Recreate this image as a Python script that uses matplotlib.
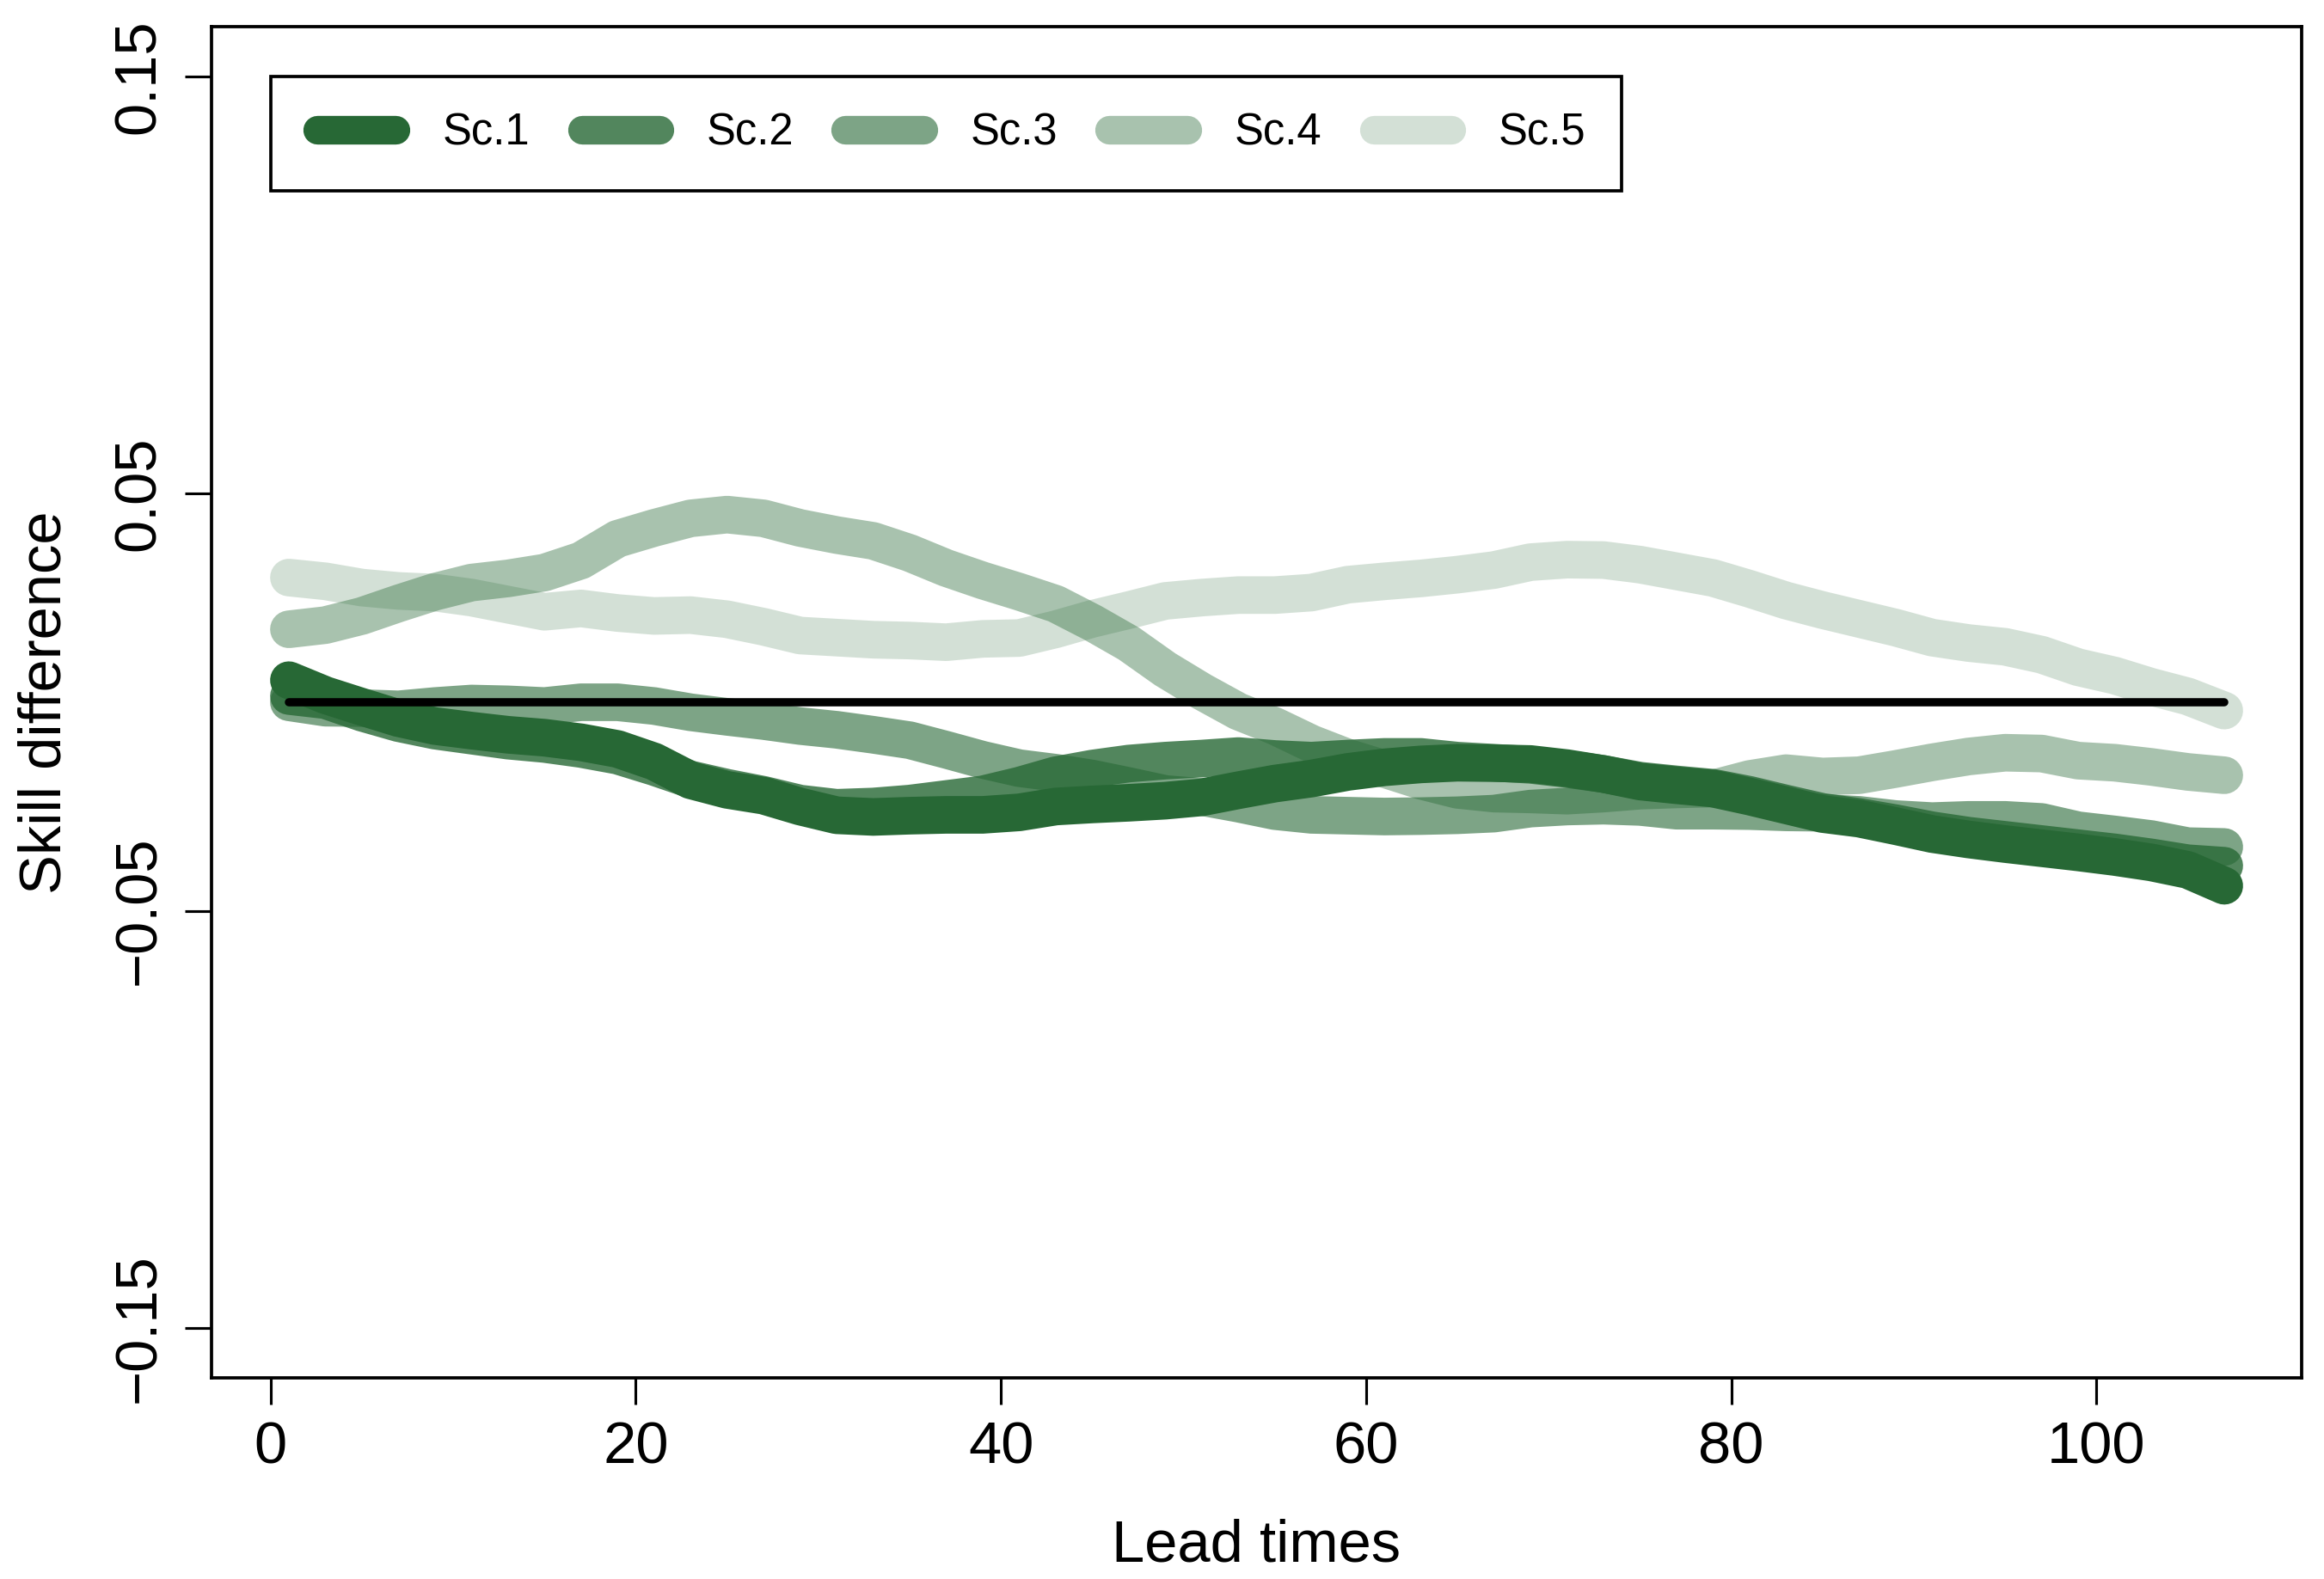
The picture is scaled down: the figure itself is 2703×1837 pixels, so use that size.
import matplotlib
matplotlib.use("Agg")
import matplotlib.pyplot as plt
from matplotlib.lines import Line2D
from matplotlib.legend_handler import HandlerLine2D

# lead times (every second one)
lead = list(range(1, 108, 2))

sc1 = [0.0053, 0.0017, -0.0011, -0.0038, -0.0057, -0.0068, -0.0078, -0.0085, -0.0096, -0.0112, -0.0142, -0.0187, -0.0210, -0.0224,
       -0.0250, -0.0271, -0.0275, -0.0272, -0.0270, -0.0270, -0.0264, -0.0250, -0.0245, -0.0241, -0.0236, -0.0228, -0.0211, -0.0195,
       -0.0183, -0.0167, -0.0156, -0.0149, -0.0145, -0.0146, -0.0148, -0.0158, -0.0172, -0.0190, -0.0199, -0.0207, -0.0226, -0.0247,
       -0.0268, -0.0279, -0.0297, -0.0316, -0.0329, -0.0340, -0.0350, -0.0360, -0.0371, -0.0384, -0.0402, -0.0440]
sc2 = [0.0015, 0.0005, -0.0025, -0.0050, -0.0068, -0.0080, -0.0092, -0.0100, -0.0112, -0.0128, -0.0155, -0.0185, -0.0205, -0.0222,
       -0.0243, -0.0253, -0.0250, -0.0243, -0.0232, -0.0221, -0.0200, -0.0175, -0.0159, -0.0147, -0.0140, -0.0135, -0.0129, -0.0136,
       -0.0140, -0.0135, -0.0131, -0.0131, -0.0140, -0.0145, -0.0150, -0.0160, -0.0172, -0.0188, -0.0197, -0.0205, -0.0222, -0.0243,
       -0.0263, -0.0275, -0.0290, -0.0307, -0.0320, -0.0330, -0.0340, -0.0350, -0.0360, -0.0372, -0.0386, -0.0392]
sc3 = [0.0000, -0.0013, -0.0014, -0.0017, -0.0009, -0.0003, -0.0005, -0.0009, 0.0000, 0.0000, -0.0009, -0.0024, -0.0035, -0.0045,
       -0.0057, -0.0066, -0.0078, -0.0091, -0.0114, -0.0138, -0.0158, -0.0169, -0.0183, -0.0201, -0.0220, -0.0227, -0.0243, -0.0261,
       -0.0270, -0.0272, -0.0274, -0.0273, -0.0271, -0.0267, -0.0255, -0.0250, -0.0248, -0.0251, -0.0260, -0.0260, -0.0261, -0.0264,
       -0.0265, -0.0270, -0.0280, -0.0285, -0.0282, -0.0282, -0.0287, -0.0307, -0.0317, -0.0328, -0.0345, -0.0347]
sc4 = [0.0175, 0.0185, 0.0207, 0.0237, 0.0265, 0.0287, 0.0297, 0.0311, 0.0340, 0.0392, 0.0418, 0.0441, 0.0450, 0.0441,
       0.0418, 0.0401, 0.0387, 0.0358, 0.0322, 0.0292, 0.0265, 0.0236, 0.0191, 0.0141, 0.0079, 0.0026, -0.0022, -0.0057,
       -0.0099, -0.0133, -0.0160, -0.0188, -0.0210, -0.0219, -0.0221, -0.0224, -0.0219, -0.0212, -0.0209, -0.0207, -0.0184, -0.0170,
       -0.0178, -0.0175, -0.0160, -0.0144, -0.0130, -0.0121, -0.0123, -0.0140, -0.0145, -0.0155, -0.0167, -0.0175]
sc5 = [0.0299, 0.0290, 0.0275, 0.0267, 0.0263, 0.0251, 0.0234, 0.0217, 0.0225, 0.0214, 0.0207, 0.0209, 0.0199, 0.0181,
       0.0160, 0.0155, 0.0150, 0.0148, 0.0144, 0.0152, 0.0154, 0.0175, 0.0200, 0.0221, 0.0243, 0.0251, 0.0257, 0.0257,
       0.0263, 0.0282, 0.0290, 0.0297, 0.0306, 0.0317, 0.0336, 0.0342, 0.0341, 0.0330, 0.0314, 0.0298, 0.0272, 0.0244,
       0.0221, 0.0200, 0.0179, 0.0155, 0.0142, 0.0133, 0.0114, 0.0084, 0.0064, 0.0037, 0.0014, -0.0020]

names = ["Sc.1", "Sc.2", "Sc.3", "Sc.4", "Sc.5"]
alphas = [1.0, 0.8, 0.6, 0.4, 0.2]
base = "#276835"

xticks = [0, 20, 40, 60, 80, 100]
yticks = [-0.15, -0.05, 0.05, 0.15]
ylabels = ["\u22120.15", "\u22120.05", "0.05", "0.15"]

plt.rcParams["font.family"] = ["Liberation Sans", "DejaVu Sans"]

fig = plt.figure(figsize=(2703 / 300, 1837 / 300), dpi=300)
ax = fig.add_axes([0.0910, 0.1274, 0.8994, 0.8557])

# the five scenarios, same colour with decreasing opacity
for vals, name, a in zip([sc1, sc2, sc3, sc4, sc5], names, alphas):
    ax.plot(lead, vals, color=base, alpha=a, lw=10.5,
            solid_capstyle="round", solid_joinstyle="round", label=name)

# zero reference
ax.plot(lead, [0] * len(lead), color="black", lw=2.3, solid_capstyle="round")

ax.set_xlim(-3.24, 111.24)
ax.set_ylim(-0.162, 0.162)
ax.set_xticks(xticks)
ax.set_xticklabels([str(t) for t in xticks], fontsize=16.5)
ax.set_yticks(yticks)
ax.set_yticklabels(ylabels, rotation=90, va="center", fontsize=16.5)
ax.tick_params(axis="both", direction="out", length=7.5, width=0.75, color="black")
ax.tick_params(axis="x", pad=4.5)
ax.tick_params(axis="y", pad=5)
for s in ax.spines.values():
    s.set_linewidth(0.9)

ax.set_xlabel("Lead times", fontsize=16.5, labelpad=12)
ax.set_ylabel("Skill difference", fontsize=16.5, labelpad=11)

leg = ax.legend(loc="upper left", bbox_to_anchor=(0, 0.15), bbox_transform=ax.transData,
                ncol=5, fontsize=12.2, frameon=True, fancybox=False, framealpha=1,
                edgecolor="black", borderaxespad=0, borderpad=0.82, numpoints=2,
                handlelength=2.293, handletextpad=0.819, columnspacing=0.93,
                handler_map={Line2D: HandlerLine2D(marker_pad=0.255)})
leg.get_frame().set_linewidth(0.9)
for ln in leg.get_lines():
    ln.set_linewidth(8)
    ln.set_solid_capstyle("round")

fig.savefig("out.png", dpi=300)
